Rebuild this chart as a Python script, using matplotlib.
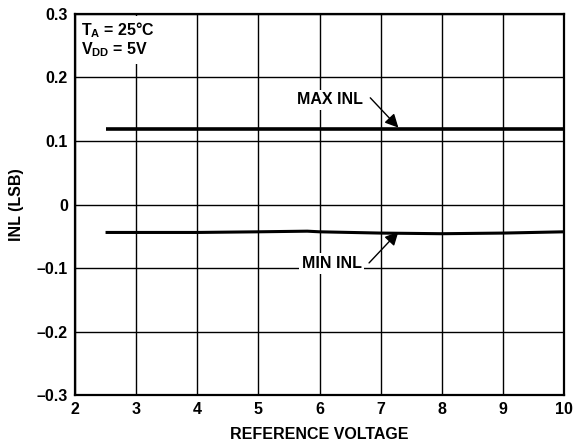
import matplotlib
matplotlib.use("Agg")
import matplotlib.pyplot as plt
from matplotlib.ticker import FuncFormatter

plt.rcParams['font.family'] = ['Liberation Sans', 'DejaVu Sans']
plt.rcParams['font.weight'] = 'bold'
plt.rcParams['mathtext.fontset'] = 'custom'
plt.rcParams['mathtext.rm'] = 'Liberation Sans:bold'
plt.rcParams['mathtext.bf'] = 'Liberation Sans:bold'
plt.rcParams['mathtext.it'] = 'Liberation Sans:bold'

# reference voltage (V) and INL (LSB)
vref = [2.5, 3, 4, 5, 5.8, 6, 7, 8, 9, 10]
max_inl = [0.119, 0.119, 0.119, 0.119, 0.119, 0.119, 0.119, 0.119, 0.119, 0.119]
min_inl = [-0.044, -0.044, -0.044, -0.043, -0.042, -0.043, -0.045, -0.046, -0.045, -0.043]

xticks = [2, 3, 4, 5, 6, 7, 8, 9, 10]
yticks = [-0.3, -0.2, -0.1, 0, 0.1, 0.2, 0.3]

FS = 11.5


def fmt_y(v, pos):
    if abs(v) < 1e-9:
        return "0"
    s = "{:.1f}".format(abs(v))
    return ("\u2013" + s) if v < 0 else s


fig = plt.figure(figsize=(5.75, 4.47), dpi=100)
ax = fig.add_axes([0.1304, 0.1163, 0.8506, 0.8524])

ax.plot(vref, max_inl, color="black", lw=2.6, zorder=3, solid_capstyle="butt")
ax.plot(vref, min_inl, color="black", lw=2.2, zorder=3, solid_capstyle="butt")

ax.set_xlim(2, 10)
ax.set_ylim(-0.3, 0.3)
ax.set_xticks(xticks)
ax.set_yticks(yticks)
ax.yaxis.set_major_formatter(FuncFormatter(fmt_y))
ax.tick_params(length=0, labelsize=FS, pad=5)
for lab in ax.get_xticklabels() + ax.get_yticklabels():
    lab.set_fontweight("bold")
ax.grid(True, color="black", lw=1.0)
ax.set_axisbelow(True)
for sp in ax.spines.values():
    sp.set_linewidth(1.6)

ax.set_xlabel("REFERENCE VOLTAGE", fontsize=FS, fontweight="bold", labelpad=7)
ax.set_ylabel("INL (LSB)", fontsize=FS, fontweight="bold", labelpad=9)

ax.text(2.1, 0.29, "T$_{\\mathrm{A}}$ = 25\u00b0C\nV$_{\\mathrm{DD}}$ = 5V",
        fontsize=FS, fontweight="bold", va="top", ha="left", linespacing=1.05,
        bbox=dict(facecolor="white", edgecolor="none", pad=3), zorder=4)

# labels
ax.text(6.17, 0.165, "MAX INL", fontsize=FS, fontweight="bold", ha="center",
        va="center", bbox=dict(facecolor="white", edgecolor="none", pad=2),
        zorder=4)
ax.text(6.2, -0.093, "MIN INL", fontsize=FS, fontweight="bold", ha="center",
        va="center", bbox=dict(facecolor="white", edgecolor="none", pad=2),
        zorder=4)

arrow = dict(arrowstyle="-|>", color="black", lw=1.0, mutation_scale=20,
             shrinkA=0, shrinkB=0)
ax.annotate("", xy=(7.29, 0.121), xytext=(6.83, 0.168), arrowprops=arrow,
            zorder=5)
ax.annotate("", xy=(7.29, -0.043), xytext=(6.81, -0.092), arrowprops=arrow,
            zorder=5)

fig.savefig("out.png", dpi=100)
